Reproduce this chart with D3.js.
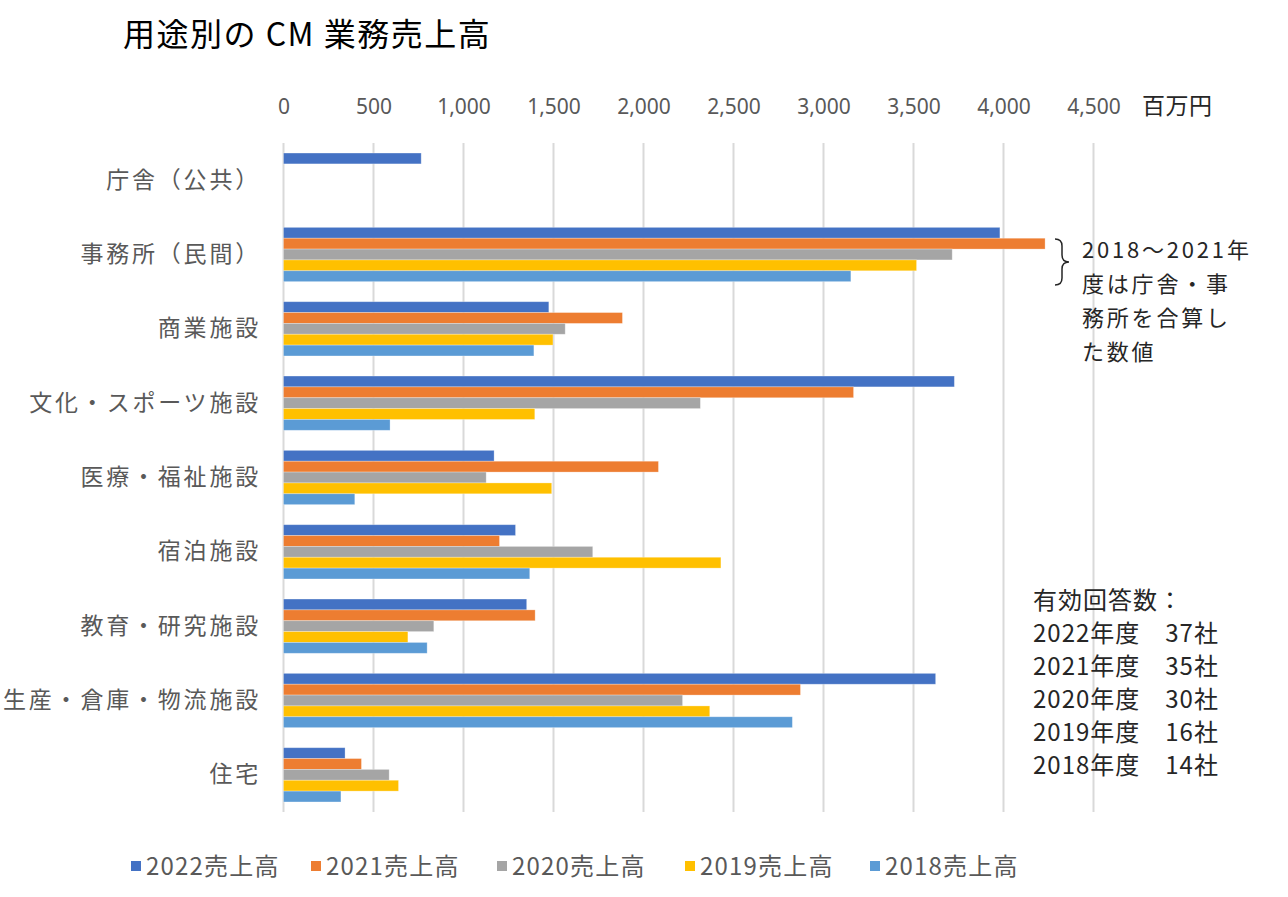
<!DOCTYPE html>
<html><head><meta charset="utf-8">
<script src="https://cdn.jsdelivr.net/npm/d3@7"></script>
<style>
body{margin:0;background:#fff;}
svg{display:block;}
text{font-family:"Noto Sans CJK JP","Noto Sans",sans-serif;}
</style></head>
<body><svg id="chart" width="1288" height="897"></svg>
<script>
const categories = ["庁舎（公共）","事務所（民間）","商業施設","文化・スポーツ施設","医療・福祉施設","宿泊施設","教育・研究施設","生産・倉庫・物流施設","住宅"];
const seriesNames = ["2022売上高","2021売上高","2020売上高","2019売上高","2018売上高"];
const seriesColors = ["#4472C4","#ED7D31","#A5A5A5","#FFC000","#5B9BD5"];
const v2022 = [765, 3980, 1474, 3727, 1170, 1289, 1351, 3623, 342];
const v2021 = [null, 4231, 1883, 3167, 2083, 1200, 1398, 2872, 433];
const v2020 = [null, 3715, 1565, 2316, 1126, 1718, 835, 2217, 587];
const v2019 = [null, 3517, 1497, 1396, 1490, 2430, 691, 2368, 639];
const v2018 = [null, 3152, 1391, 592, 396, 1368, 798, 2827, 319];
const tickValues = [0,500,1000,1500,2000,2500,3000,3500,4000,4500];
const unitLabel = "百万円";
const title = "用途別の CM 業務売上高";
const noteLines = ["2018～2021年","度は庁舎・事","務所を合算し","た数値"];
const respLines = ["有効回答数：","2022年度　37社","2021年度　35社","2020年度　30社","2019年度　16社","2018年度　14社"];

const values = [v2022, v2021, v2020, v2019, v2018];
const svg = d3.select("#chart");
svg.append("rect").attr("width",1288).attr("height",897).attr("fill","#fff");

const x = d3.scaleLinear().domain([0,4500]).range([283.5, 1093.5]);
const y = d3.scaleBand().domain(categories).range([143, 812]).paddingInner(0.27).paddingOuter(0.135);
const ys = d3.scaleBand().domain(seriesNames).range([0, y.bandwidth()]);

// gridlines
svg.append("g").selectAll("line").data(tickValues).join("line")
  .attr("x1", d=>x(d)).attr("x2", d=>x(d)).attr("y1",143).attr("y2",812)
  .attr("stroke","#D9D9D9").attr("stroke-width",2);

// top axis
const ax = svg.append("g").attr("transform","translate(0,114)")
  .call(d3.axisTop(x).tickValues(tickValues).tickFormat(d3.format(",")).tickSize(0).tickPadding(0));
ax.select(".domain").remove();
ax.selectAll("text").attr("fill","#595959").style("font-family","'Liberation Sans Narrow','Noto Sans',sans-serif").style("font-size","21px");

svg.append("text").attr("x",1142).attr("y",114).text(unitLabel)
  .attr("fill","#262626").style("font-size","23px").style("letter-spacing","0.5px");

// left axis
const ay = svg.append("g").attr("transform","translate(261,0)")
  .call(d3.axisLeft(y).tickSize(0).tickPadding(0));
ay.select(".domain").remove();
ay.selectAll("text").attr("fill","#595959").style("font-size","23px").style("letter-spacing","2.8px")
  .style("font-family","'Noto Sans CJK JP',sans-serif");

// bars
const flat = [];
categories.forEach((c,i)=>{
  seriesNames.forEach((s,j)=>{
    const v = values[j][i];
    if (v !== null) flat.push({c, s, v, color: seriesColors[j]});
  });
});
svg.append("g").selectAll("rect").data(flat).join("rect")
  .attr("x", x(0)).attr("y", d=>y(d.c)+ys(d.s))
  .attr("width", d=>x(d.v)-x(0)).attr("height", ys.bandwidth())
  .attr("fill", d=>d.color)
  .attr("stroke","rgba(255,255,255,0.35)").attr("stroke-width",0.8);

// title
svg.append("text").attr("x",123).attr("y",46).text(title)
  .attr("fill","#000").style("font-size","32px").style("letter-spacing","1.5px");

// brace
svg.append("path")
  .attr("d","M1055,239 Q1062,239 1062,246 L1062,255 Q1062,262 1069,262 Q1062,262 1062,269 L1062,278 Q1062,285 1055,285")
  .attr("fill","none").attr("stroke","#262626").attr("stroke-width",1.5);

svg.append("g").selectAll("text").data(noteLines).join("text")
  .attr("x",1082).attr("y",(d,i)=>258+i*34).text(d=>d)
  .attr("fill","#262626").style("font-size","22px").style("letter-spacing","2.8px");

svg.append("g").selectAll("text").data(respLines).join("text")
  .attr("x",1033).attr("y",(d,i)=>609+i*33).text(d=>d)
  .attr("fill","#262626").style("font-size","24px").style("letter-spacing","1px");

// legend
const legendX = [131, 311, 497, 685, 870];
const lg = svg.append("g").selectAll("g").data(seriesNames).join("g")
  .attr("transform",(d,i)=>`translate(${legendX[i]},0)`);
lg.append("rect").attr("x",0).attr("y",861).attr("width",10).attr("height",10)
  .attr("fill",(d,i)=>seriesColors[i]);
lg.append("text").attr("x",15).attr("y",875).text(d=>d)
  .attr("fill","#595959").style("font-size","24px").style("letter-spacing","1.2px");
</script></body></html>
